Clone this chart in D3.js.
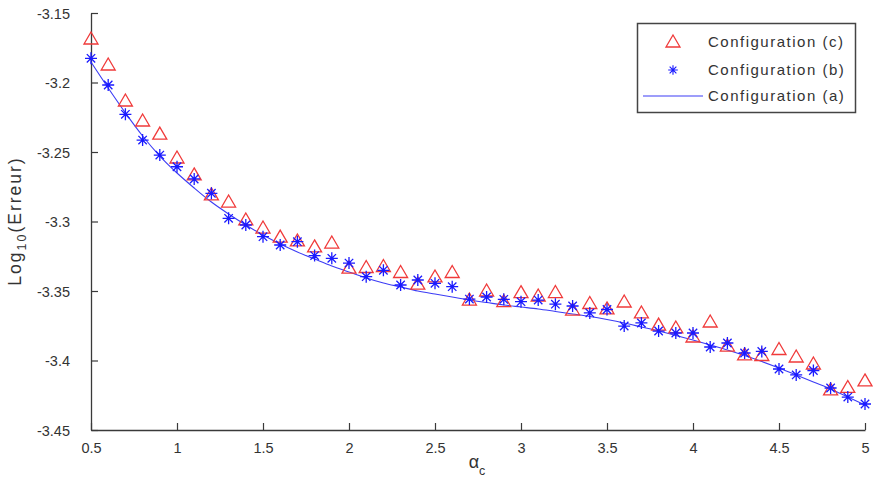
<!DOCTYPE html>
<html>
<head>
<meta charset="utf-8">
<script src="https://cdn.jsdelivr.net/npm/d3@7"></script>
<style>
  html, body { margin: 0; padding: 0; background: #fff; }
  svg { display: block; }
  text { font-family: "Liberation Sans", Arial, sans-serif; }
</style>
</head>
<body>
<svg id="chart" width="888" height="493"></svg>
<script>
// ---- data ----
const alphaValues = [0.5,0.6,0.7,0.8,0.9,1.0,1.1,1.2,1.3,1.4,1.5,1.6,1.7,1.8,1.9,2.0,2.1,2.2,2.3,2.4,2.5,2.6,2.7,2.8,2.9,3.0,3.1,3.2,3.3,3.4,3.5,3.6,3.7,3.8,3.9,4.0,4.1,4.2,4.3,4.4,4.5,4.6,4.7,4.8,4.9,5.0];
const configC = [-3.1687,-3.1874,-3.2133,-3.2277,-3.2371,-3.2543,-3.2665,-3.2809,-3.2860,-3.2989,-3.3047,-3.3112,-3.3140,-3.3183,-3.3155,-3.3335,-3.3331,-3.3324,-3.3367,-3.3450,-3.3399,-3.3367,-3.3565,-3.3500,-3.3577,-3.3512,-3.3536,-3.3511,-3.3637,-3.3590,-3.3629,-3.3579,-3.3658,-3.3745,-3.3766,-3.3831,-3.3723,-3.3896,-3.3960,-3.3964,-3.3921,-3.3975,-3.4025,-3.4212,-3.4194,-3.4147];
const configB = [-3.1826,-3.2018,-3.2229,-3.2414,-3.2522,-3.2606,-3.2694,-3.2797,-3.2977,-3.3025,-3.3109,-3.3169,-3.3145,-3.3245,-3.3265,-3.3299,-3.3397,-3.3351,-3.3457,-3.3421,-3.3445,-3.3469,-3.3558,-3.3543,-3.3560,-3.3577,-3.3565,-3.3595,-3.3608,-3.3658,-3.3633,-3.3752,-3.3730,-3.3788,-3.3802,-3.3802,-3.3903,-3.3874,-3.3946,-3.3935,-3.4061,-3.4104,-3.4072,-3.4198,-3.4263,-3.4313];
const configA = [-3.1853,-3.2040,-3.2219,-3.2385,-3.2529,-3.2651,-3.2759,-3.2860,-3.2946,-3.3025,-3.3097,-3.3162,-3.3219,-3.3270,-3.3320,-3.3363,-3.3406,-3.3442,-3.3471,-3.3500,-3.3522,-3.3543,-3.3565,-3.3583,-3.3601,-3.3615,-3.3629,-3.3647,-3.3665,-3.3683,-3.3705,-3.3730,-3.3759,-3.3788,-3.3820,-3.3853,-3.3888,-3.3924,-3.3964,-3.4007,-3.4054,-3.4104,-3.4155,-3.4205,-3.4263,-3.4320];
const xTicks = [0.5,1,1.5,2,2.5,3,3.5,4,4.5,5];
const xTickLabels = ["0.5","1","1.5","2","2.5","3","3.5","4","4.5","5"];
const yTicks = [-3.15,-3.2,-3.25,-3.3,-3.35,-3.4,-3.45];
const yTickLabels = ["-3.15","-3.2","-3.25","-3.3","-3.35","-3.4","-3.45"];
const legendLabels = ["Configuration (c)","Configuration (b)","Configuration (a)"];

// ---- layout ----
const svg = d3.select("#chart");
const L = 91, R = 865, T = 13, B = 430;
const x = d3.scaleLinear().domain([0.5, 5]).range([L, R]);
const y = d3.scaleLinear().domain([-3.45, -3.15]).range([B, T]);
const axisColor = "#3a3a3a";
const textColor = "#333";

// axes
const xAxis = svg.append("g").attr("transform", `translate(0,${B})`)
  .call(d3.axisBottom(x).tickValues(xTicks).tickFormat((d,i)=>xTickLabels[i]).tickSizeInner(-7).tickSizeOuter(0));
const yAxis = svg.append("g").attr("transform", `translate(${L},0)`)
  .call(d3.axisLeft(y).tickValues(yTicks).tickFormat((d,i)=>yTickLabels[i]).tickSizeInner(-7).tickSizeOuter(0));
[xAxis, yAxis].forEach(g => {
  g.select(".domain").attr("stroke", axisColor).attr("stroke-width", 1.3);
  g.selectAll(".tick line").attr("stroke", axisColor).attr("stroke-width", 1.2);
  g.selectAll(".tick text").attr("fill", textColor).attr("font-size", 14.5)
    .attr("font-family", "'Liberation Sans', Arial, sans-serif");
});
yAxis.selectAll(".tick text").attr("x", -21).attr("dy", "0.36em");
xAxis.selectAll(".tick text").attr("y", 13).attr("dy", "0.71em");

// line (a)
const lineData = alphaValues.map((a,i)=>[a, configA[i]]);
svg.append("path").datum(lineData)
  .attr("fill","none").attr("stroke","#3c3cf5").attr("stroke-width",1.1)
  .attr("d", d3.line().x(d=>x(d[0])).y(d=>y(d[1])).curve(d3.curveMonotoneX));

// triangles (c)
const triPath = "M0,-7 L7,5 L-7,5 Z";
svg.append("g").selectAll("path").data(alphaValues.map((a,i)=>[a, configC[i]])).join("path")
  .attr("d", triPath)
  .attr("transform", d=>`translate(${x(d[0])},${y(d[1])})`)
  .attr("fill","none").attr("stroke","#f03a3a").attr("stroke-width",1.3);

// stars (b)
const starPath = "M-6,0 L6,0 M0,-6 L0,6 M-4.2,-4.2 L4.2,4.2 M-4.2,4.2 L4.2,-4.2";
svg.append("g").selectAll("path").data(alphaValues.map((a,i)=>[a, configB[i]])).join("path")
  .attr("d", starPath)
  .attr("transform", d=>`translate(${x(d[0])},${y(d[1])})`)
  .attr("fill","none").attr("stroke","#1a1aff").attr("stroke-width",1.3);

// legend
const lg = svg.append("g");
lg.append("rect").attr("x",637.5).attr("y",23.5).attr("width",218).attr("height",89)
  .attr("fill","#fff").attr("stroke","#444").attr("stroke-width",1.5);
const rowY = [42, 70, 96];
lg.append("path").attr("d", triPath).attr("transform",`translate(673,${rowY[0]})`)
  .attr("fill","none").attr("stroke","#f03a3a").attr("stroke-width",1.3);
lg.append("path").attr("d", starPath).attr("transform",`translate(673,${rowY[1]}) scale(0.8)`)
  .attr("fill","none").attr("stroke","#1a1aff").attr("stroke-width",1.4);
lg.append("line").attr("x1",643).attr("x2",703).attr("y1",rowY[2]).attr("y2",rowY[2])
  .attr("stroke","#3c3cf5").attr("stroke-width",1.1);
lg.selectAll("text.lbl").data(legendLabels).join("text").attr("class","lbl")
  .attr("x",708).attr("y",(d,i)=>rowY[i]).attr("dy","0.36em")
  .attr("font-size",15).attr("letter-spacing",1.5).attr("fill",textColor).text(d=>d);

// axis labels
const yl = svg.append("text").attr("transform","translate(21,221) rotate(-90)")
  .attr("text-anchor","middle").attr("font-size",17.5).attr("letter-spacing",2).attr("fill",textColor);
yl.append("tspan").text("Log");
yl.append("tspan").attr("font-size",12.5).attr("dy",5).text("10");
yl.append("tspan").attr("dy",-5).text("(Erreur)");

const xl = svg.append("text").attr("x",477).attr("y",468)
  .attr("text-anchor","middle").attr("font-size",18).attr("fill",textColor);
xl.append("tspan").text("α");
xl.append("tspan").attr("font-size",12.5).attr("dy",7).text("c");
</script>
</body>
</html>
